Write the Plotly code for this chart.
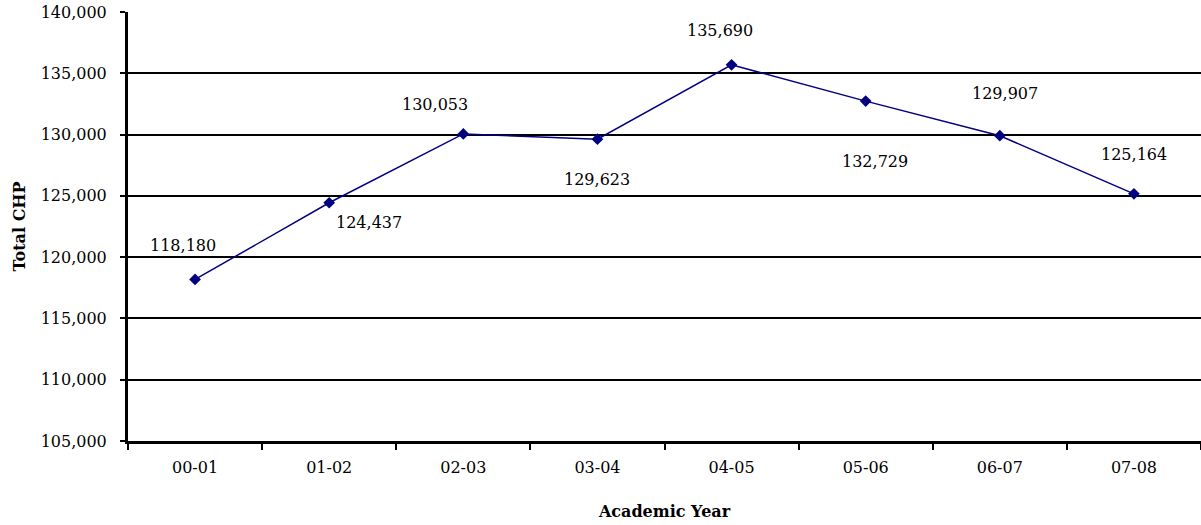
import plotly.graph_objects as go

years = ["00-01", "01-02", "02-03", "03-04", "04-05", "05-06", "06-07", "07-08"]
chp = [118180, 124437, 130053, 129623, 135690, 132729, 129907, 125164]
y_ticks = [105000, 110000, 115000, 120000, 125000, 130000, 135000, 140000]
# label offsets (pixels) relative to each point
label_dx = [-12, 40, -28, 0, -12, 9, 5, 0]
label_dy = [34, -20, 29, -40, 34, -60, 42, 39]

FONT = "DejaVu Serif"
NAVY = "#000080"

fig = go.Figure()
fig.add_trace(go.Scatter(
    x=years, y=chp, mode="lines+markers",
    line=dict(color=NAVY, width=1.5),
    marker=dict(symbol="diamond", size=9, color=NAVY),
    showlegend=False, hoverinfo="skip", cliponaxis=False,
))

for xv, yv, dx, dy in zip(years, chp, label_dx, label_dy):
    fig.add_annotation(x=xv, y=yv, text=f"{yv:,}", showarrow=False,
                       xshift=dx, yshift=dy,
                       font=dict(family=FONT, size=16, color="black"))

fig.update_layout(
    width=1201, height=525,
    margin=dict(l=128, r=0, t=12, b=84, autoexpand=False),
    paper_bgcolor="white", plot_bgcolor="white",
    font=dict(family=FONT, size=16, color="black"),
    xaxis=dict(
        type="category", range=[-0.5, 7.5], tickson="boundaries",
        ticks="outside", ticklen=6, tickwidth=2, tickcolor="black",
        showline=True, linecolor="black", linewidth=3,
        showgrid=False, zeroline=False, automargin=False,
        tickfont=dict(family=FONT, size=16),
        ticklabelstandoff=10,
        title=dict(text="<b>Academic Year</b>", font=dict(family=FONT, size=16), standoff=30),
    ),
    yaxis=dict(
        range=[105000, 140000], tickvals=y_ticks,
        ticktext=[f"{v:,}" for v in y_ticks],
        ticks="outside", ticklen=5, tickwidth=2, tickcolor="black",
        showline=True, linecolor="black", linewidth=3,
        showgrid=True, gridcolor="black", gridwidth=1.5,
        zeroline=False, automargin=False,
        tickfont=dict(family=FONT, size=16),
        ticklabelstandoff=10, ticklabeloverflow="allow",
        title=dict(text="<b>Total CHP</b>", font=dict(family=FONT, size=16), standoff=12),
    ),
)

fig.write_html(
    "out.html",
    config={"displayModeBar": False},
    post_script="document.body.style.margin='0';document.body.style.overflow='hidden';",
)
